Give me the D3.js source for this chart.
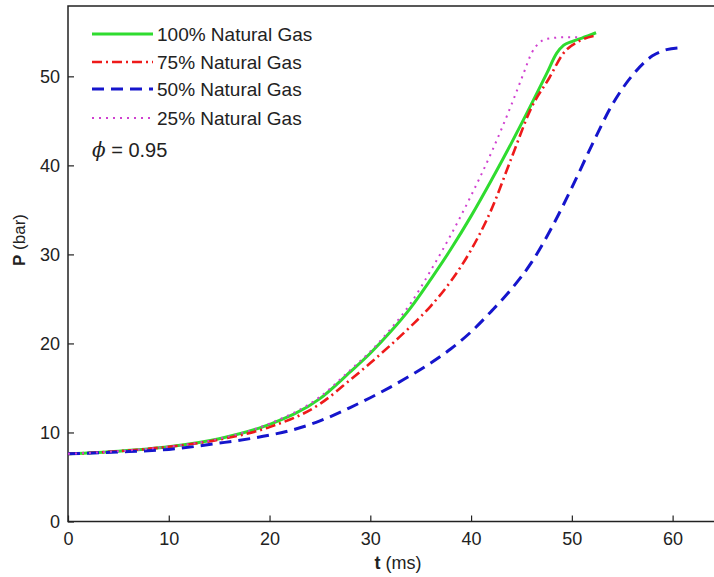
<!DOCTYPE html>
<html>
<head>
<meta charset="utf-8">
<script src="https://cdn.jsdelivr.net/npm/d3@7"></script>
<style>
body { margin: 0; background: #fff; }
text { font-family: "Liberation Sans", Arial, sans-serif; fill: #222; }
</style>
</head>
<body>
<div id="chart1"></div>
<script>
// Data (t in ms, P in bar)
var t100 = [0, 5, 10, 15, 20, 25, 28, 30, 32, 34, 36, 38, 40, 42, 44, 46, 47.5, 48.5, 49.2, 50, 51, 52.4];
var p100 = [7.6, 7.9, 8.4, 9.3, 10.9, 13.8, 16.8, 18.9, 21.3, 24.0, 27.2, 30.6, 34.3, 38.3, 42.5, 46.9, 50.3, 52.6, 53.5, 53.9, 54.3, 54.9];

var t75 = [0, 5, 10, 15, 20, 25, 28, 30, 32, 34, 36, 38, 40, 42, 44, 46, 47.8, 49.1, 50.8, 52.4];
var p75 = [7.6, 7.9, 8.4, 9.2, 10.6, 13.2, 15.9, 17.8, 19.8, 21.9, 24.2, 27.0, 30.5, 35.0, 40.8, 46.5, 49.9, 52.5, 54.0, 54.6];

var t50 = [0, 5, 10, 15, 20, 22, 25, 28, 30, 32, 34, 36, 38, 40, 42, 44, 46, 48, 50, 52, 54, 56, 58, 59.4, 60.6];
var p50 = [7.6, 7.8, 8.1, 8.8, 9.7, 10.2, 11.3, 12.8, 13.9, 15.1, 16.4, 17.8, 19.4, 21.3, 23.6, 26.1, 29.1, 33.0, 37.5, 42.3, 46.8, 50.1, 52.3, 53.0, 53.2];

var t25 = [0, 5, 10, 15, 20, 25, 28, 30, 32, 34, 36, 38, 40, 42, 44, 45.2, 46, 46.8, 47.5, 49.5, 50.8];
var p25 = [7.6, 7.9, 8.4, 9.3, 11.0, 14.0, 17.0, 19.1, 21.6, 24.5, 28.2, 32.2, 36.6, 41.4, 46.8, 50.3, 52.6, 53.8, 54.2, 54.4, 54.4];

var seriesNames = ["100% Natural Gas", "75% Natural Gas", "50% Natural Gas", "25% Natural Gas"];
var xTicks = [0, 10, 20, 30, 40, 50, 60];
var yTicks = [0, 10, 20, 30, 40, 50];

var chartConfig = {
	width : 714,
	height : 577,
	left : 68,
	right : 723,
	top : 6,
	bottom : 521.5,
	xMax : 65,
	yMax : 57.9
};

// styles per series, same order as seriesNames
var lineStyles = [
	{color : "#2fdc2f", width : 3, dash : null},
	{color : "#ee1a1a", width : 2.6, dash : "10,4,2,4"},
	{color : "#1515cc", width : 3, dash : "12,7"},
	{color : "#d040d0", width : 2, dash : "2,5"}
];

var seriesData = [
	d3.zip(t100, p100),
	d3.zip(t75, p75),
	d3.zip(t50, p50),
	d3.zip(t25, p25)
];

var c1 = d3.select("#chart1");
var svg1 = c1.append("svg")
	.attr("width", chartConfig.width)
	.attr("height", chartConfig.height);

var x = d3.scaleLinear().domain([0, chartConfig.xMax]).range([chartConfig.left, chartConfig.right]);
var y = d3.scaleLinear().domain([0, chartConfig.yMax]).range([chartConfig.bottom, chartConfig.top]);

// axes box
svg1.append("rect")
	.attr("x", chartConfig.left)
	.attr("y", chartConfig.top)
	.attr("width", chartConfig.right - chartConfig.left)
	.attr("height", chartConfig.bottom - chartConfig.top)
	.attr("fill", "none")
	.attr("stroke", "#222")
	.attr("stroke-width", 1.5);

var line = d3.line()
	.x(function(d){return x(d[0]);})
	.y(function(d){return y(d[1]);})
	.curve(d3.curveMonotoneX);

var plotOrder = [0, 1, 2, 3];
svg1.selectAll("path.series")
	.data(plotOrder)
	.enter().append("path")
	.attr("class", "series")
	.attr("d", function(i){return line(seriesData[i]);})
	.attr("fill", "none")
	.attr("stroke", function(i){return lineStyles[i].color;})
	.attr("stroke-width", function(i){return lineStyles[i].width;})
	.attr("stroke-dasharray", function(i){return lineStyles[i].dash;});

// axes, ticks pointing inward
var xAxis = svg1.append("g")
	.attr("transform", "translate(0," + chartConfig.bottom + ")")
	.call(d3.axisBottom(x).tickValues(xTicks).tickSize(-6).tickPadding(11).tickFormat(d3.format("d")));
var yAxis = svg1.append("g")
	.attr("transform", "translate(" + chartConfig.left + ",0)")
	.call(d3.axisLeft(y).tickValues(yTicks).tickSize(-6).tickPadding(8).tickFormat(d3.format("d")));

[xAxis, yAxis].forEach(function(a){
	a.select(".domain").remove();
	a.selectAll(".tick line").attr("stroke", "#222").attr("stroke-width", 1.2);
	a.selectAll(".tick text").attr("font-size", 18).attr("font-family", "Liberation Sans, Arial, sans-serif").attr("fill", "#222");
});

// axis labels
var xl = svg1.append("text")
	.attr("x", 398)
	.attr("y", 569)
	.attr("text-anchor", "middle")
	.attr("font-size", 18);
xl.append("tspan").attr("font-weight", "bold").text("t");
xl.append("tspan").text(" (ms)");

var yl = svg1.append("text")
	.attr("transform", "translate(25,240) rotate(-90)")
	.attr("text-anchor", "middle")
	.attr("font-size", 17);
yl.append("tspan").attr("font-weight", "bold").text("P");
yl.append("tspan").text(" (bar)");

// legend
var legendY = [34, 62, 89, 118];
var leg = svg1.selectAll("g.legend")
	.data(plotOrder)
	.enter().append("g")
	.attr("class", "legend")
	.attr("transform", function(i){return "translate(0," + legendY[i] + ")";});
leg.append("line")
	.attr("x1", 92).attr("x2", 153)
	.attr("y1", 0).attr("y2", 0)
	.attr("stroke", function(i){return lineStyles[i].color;})
	.attr("stroke-width", function(i){return lineStyles[i].width;})
	.attr("stroke-dasharray", function(i){return lineStyles[i].dash;});
leg.append("text")
	.attr("x", 157)
	.attr("y", 7)
	.attr("font-size", 19)
	.text(function(i){return seriesNames[i];});

var phi = svg1.append("text")
	.attr("x", 92)
	.attr("y", 157)
	.attr("font-size", 20);
phi.append("tspan").attr("font-style", "italic").attr("font-family", "DejaVu Serif, serif").text("\u03D5");
phi.append("tspan").text(" = 0.95");
</script>
</body>
</html>
